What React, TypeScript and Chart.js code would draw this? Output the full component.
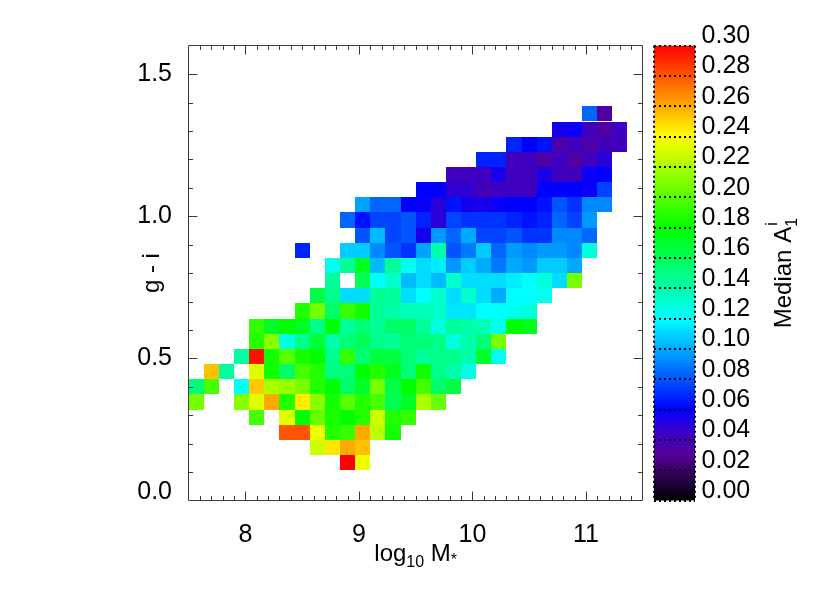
import React, { useEffect, useRef } from 'react';
import { Chart, registerables } from 'chart.js';

Chart.register(...registerables);

// ---- axes ----
const X_MIN = 7.5;
const X_MAX = 11.5;
const Y_MIN = 0.0;
const Y_MAX = 1.6;
const N_BINS = 30;
const xTickValues = [8, 9, 10, 11];
const yTickValues = [0.0, 0.5, 1.0, 1.5];
const cbMin = 0.0;
const cbMax = 0.3;
const cbTickValues = [0.0, 0.02, 0.04, 0.06, 0.08, 0.1, 0.12, 0.14, 0.16, 0.18, 0.2, 0.22, 0.24, 0.26, 0.28, 0.3];

// ---- data: median A1 per (log M*, g-i) bin; row j = g-i bin from bottom, first value at column rowStart[j] ----
const rowStart = [0, 0, 10, 8, 6, 4, 0, 0, 1, 3, 4, 4, 7, 8, 9, 9, 7, 11, 10, 11, 15, 17, 19, 21, 24, 26];
const rowValues: (number | null)[][] = [
  [],
  [],
  [0.300, 0.236],
  [0.228, 0.246, 0.260, 0.255],
  [0.280, 0.280, 0.236, 0.188, 0.192, 0.260, 0.224, 0.184],
  [0.196, null, 0.232, 0.180, 0.204, 0.186, 0.180, 0.188, 0.228, 0.188, 0.192],
  [0.208, null, null, 0.212, 0.232, 0.260, 0.188, 0.244, 0.212, 0.184, 0.200, 0.188, 0.196, 0.160, 0.172, 0.220, 0.204],
  [0.152, 0.196, null, 0.120, 0.253, 0.220, 0.216, 0.208, 0.188, 0.180, 0.156, 0.170, 0.208, 0.163, 0.180, 0.196, 0.156, 0.164],
  [0.255, 0.143, null, 0.232, 0.184, 0.156, 0.196, 0.188, 0.150, 0.152, 0.180, 0.188, 0.174, 0.152, 0.184, 0.148, 0.140, 0.126],
  [0.143, 0.296, 0.184, 0.200, 0.184, 0.180, 0.148, 0.192, 0.152, 0.166, 0.166, 0.152, 0.144, 0.148, 0.148, 0.140, 0.170, 0.124],
  [0.188, 0.212, 0.128, 0.148, 0.168, 0.140, 0.152, 0.160, 0.148, 0.144, 0.152, 0.152, 0.148, 0.128, 0.140, 0.152, 0.208],
  [0.192, 0.172, 0.180, 0.172, 0.148, 0.180, 0.144, 0.152, 0.144, 0.156, 0.156, 0.144, 0.128, 0.144, 0.140, 0.138, 0.124, 0.180, 0.174],
  [0.188, 0.208, 0.156, 0.192, 0.184, 0.144, 0.140, 0.136, 0.136, 0.134, 0.114, 0.114, 0.120, 0.120, 0.124, 0.128],
  [0.164, 0.148, 0.112, 0.112, 0.144, 0.144, 0.112, 0.120, 0.132, 0.112, 0.132, 0.112, 0.100, 0.120, 0.120, 0.124],
  [0.144, null, 0.160, 0.120, 0.132, 0.104, 0.112, 0.104, 0.132, 0.112, 0.112, 0.112, 0.116, 0.120, 0.128, 0.112, 0.208],
  [0.124, 0.144, 0.172, 0.104, 0.144, 0.124, 0.112, 0.116, 0.096, 0.108, 0.100, 0.088, 0.100, 0.096, 0.108, 0.108, 0.100],
  [0.068, null, null, 0.108, 0.108, 0.092, 0.080, 0.072, 0.098, 0.140, 0.080, 0.088, 0.108, 0.084, 0.096, 0.092, 0.096, 0.096, 0.092, 0.128],
  [0.080, 0.104, 0.076, 0.080, 0.055, 0.096, 0.084, 0.100, 0.076, 0.076, 0.080, 0.072, 0.072, 0.092, 0.092, 0.084],
  [0.084, 0.064, 0.076, 0.076, 0.080, 0.068, 0.050, 0.076, 0.072, 0.072, 0.072, 0.068, 0.064, 0.068, 0.084, 0.076, 0.096],
  [0.098, 0.084, 0.084, 0.060, 0.058, 0.050, 0.064, 0.055, 0.054, 0.058, 0.060, 0.060, 0.064, 0.080, 0.072, 0.092, 0.092],
  [0.060, 0.060, 0.048, 0.048, 0.040, 0.043, 0.043, 0.043, 0.060, 0.060, 0.060, 0.058, 0.076],
  [0.043, 0.043, 0.043, 0.054, 0.042, 0.042, 0.053, 0.043, 0.042, 0.058, 0.060],
  [0.068, 0.068, 0.042, 0.042, 0.034, 0.043, 0.034, 0.042, 0.050],
  [0.068, 0.060, 0.064, 0.036, 0.042, 0.036, 0.042, 0.042],
  [0.055, 0.058, 0.042, 0.034, 0.043],
  [0.084, 0.034],
];

// ---- colour table (value, r, g, b) ----
const cmapStops: [number, number, number, number][] = [
  [0.000, 0, 0, 0],
  [0.030, 85, 0, 150],
  [0.045, 60, 0, 200],
  [0.060, 0, 0, 255],
  [0.090, 0, 128, 255],
  [0.120, 0, 255, 255],
  [0.150, 0, 255, 128],
  [0.180, 0, 255, 0],
  [0.240, 255, 255, 0],
  [0.270, 255, 128, 0],
  [0.300, 255, 0, 0],
];

const FONT = '"Liberation Sans", Arial, Helvetica, sans-serif';

function colorFor(v: number): string {
  const t = Math.max(cbMin, Math.min(cbMax, v));
  for (let k = 1; k < cmapStops.length; k++) {
    const a = cmapStops[k - 1];
    const b = cmapStops[k];
    if (t <= b[0]) {
      const f = (t - a[0]) / (b[0] - a[0]);
      const r = Math.round(a[1] + (b[1] - a[1]) * f);
      const g = Math.round(a[2] + (b[2] - a[2]) * f);
      const bb = Math.round(a[3] + (b[3] - a[3]) * f);
      return `rgb(${r},${g},${bb})`;
    }
  }
  const l = cmapStops[cmapStops.length - 1];
  return `rgb(${l[1]},${l[2]},${l[3]})`;
}

const dx = (X_MAX - X_MIN) / N_BINS;
const dy = (Y_MAX - Y_MIN) / N_BINS;

function buildPoints() {
  const pts: { x: number; y: number; v: number }[] = [];
  rowValues.forEach((row, j) => {
    row.forEach((v, k) => {
      if (v === null) return;
      const i = rowStart[j] + k;
      pts.push({ x: X_MIN + (i + 0.5) * dx, y: Y_MIN + (j + 0.5) * dy, v });
    });
  });
  return pts;
}

const heatPlugin = {
  id: 'heatCells',
  beforeDatasetsDraw(chart: any) {
    const { ctx, chartArea, scales } = chart;
    const xs = scales.x;
    const ys = scales.y;
    const data = chart.data.datasets[0].data as { x: number; y: number; v: number }[];
    ctx.save();
    ctx.beginPath();
    ctx.rect(chartArea.left, chartArea.top, chartArea.right - chartArea.left, chartArea.bottom - chartArea.top);
    ctx.clip();
    for (const p of data) {
      const x0 = Math.round(xs.getPixelForValue(p.x - dx / 2));
      const x1 = Math.round(xs.getPixelForValue(p.x + dx / 2));
      const y0 = Math.round(ys.getPixelForValue(p.y + dy / 2));
      const y1 = Math.round(ys.getPixelForValue(p.y - dy / 2));
      ctx.fillStyle = colorFor(p.v);
      ctx.fillRect(x0, y0, x1 - x0, y1 - y0);
    }
    ctx.restore();
  },
};

const framePlugin = {
  id: 'frameAndBar',
  afterDraw(chart: any) {
    const { ctx, chartArea, scales } = chart;
    const xs = scales.x;
    const ys = scales.y;
    const cb = scales.y2;
    const L = Math.floor(chartArea.left) + 0.5;
    const R = Math.floor(chartArea.right) + 0.5;
    const T = Math.floor(chartArea.top) + 0.5;
    const B = Math.floor(chartArea.bottom) + 0.5;
    ctx.save();
    ctx.strokeStyle = '#3a3a3a';
    ctx.lineWidth = 1;
    ctx.beginPath();
    ctx.rect(L, T, R - L, B - T);
    ctx.stroke();
    const major = 9;
    const minor = 4.5;
    ctx.beginPath();
    for (let k = Math.round(X_MIN * 10) + 1; k < Math.round(X_MAX * 10); k++) {
      const px = Math.round(xs.getPixelForValue(k / 10)) + 0.5;
      const len = k % 10 === 0 ? major : minor;
      ctx.moveTo(px, B);
      ctx.lineTo(px, B - len);
      ctx.moveTo(px, T);
      ctx.lineTo(px, T + len);
    }
    for (let k = Math.round(Y_MIN * 10) + 1; k < Math.round(Y_MAX * 10); k++) {
      const py = Math.round(ys.getPixelForValue(k / 10)) + 0.5;
      const len = k % 5 === 0 ? major : minor;
      ctx.moveTo(L, py);
      ctx.lineTo(L + len, py);
      ctx.moveTo(R, py);
      ctx.lineTo(R - len, py);
    }
    ctx.stroke();

    // colour bar
    const bx0 = Math.round(chartArea.right + 11.5);
    const bx1 = Math.round(chartArea.right + 52.5);
    const byTop = cb.getPixelForValue(cbMax);
    const byBot = cb.getPixelForValue(cbMin);
    const grad = ctx.createLinearGradient(0, byBot, 0, byTop);
    for (const s of cmapStops) {
      grad.addColorStop((s[0] - cbMin) / (cbMax - cbMin), `rgb(${s[1]},${s[2]},${s[3]})`);
    }
    ctx.fillStyle = grad;
    ctx.fillRect(bx0, byTop, bx1 - bx0, byBot - byTop);
    ctx.strokeStyle = '#000';
    ctx.lineWidth = 2;
    ctx.setLineDash([2, 3]);
    ctx.beginPath();
    for (const v of cbTickValues) {
      const py = Math.round(cb.getPixelForValue(v));
      ctx.moveTo(bx0, py);
      ctx.lineTo(bx1, py);
    }
    ctx.moveTo(bx0, byTop);
    ctx.lineTo(bx0, byBot);
    ctx.moveTo(bx1, byTop);
    ctx.lineTo(bx1, byBot);
    ctx.stroke();
    ctx.setLineDash([]);

    // titles
    ctx.fillStyle = '#000';
    ctx.textBaseline = 'alphabetic';
    // x title: log10 M*
    const big = `24px ${FONT}`;
    const small = `16px ${FONT}`;
    const parts: [string, string, number][] = [
      ['log', big, 0],
      ['10', small, 6],
      [' M', big, 0],
      ['*', small, 4],
    ];
    let total = 0;
    for (const p of parts) {
      ctx.font = p[1];
      total += ctx.measureText(p[0]).width;
    }
    let cx = (chartArea.left + chartArea.right) / 2 - total / 2;
    const baseY = chartArea.bottom + 60;
    for (const p of parts) {
      ctx.font = p[1];
      ctx.fillText(p[0], cx, baseY + p[2]);
      cx += ctx.measureText(p[0]).width;
    }
    // y title: g - i
    ctx.save();
    ctx.translate(chartArea.left - 30, (chartArea.top + chartArea.bottom) / 2);
    ctx.rotate(-Math.PI / 2);
    ctx.font = big;
    ctx.textAlign = 'center';
    ctx.fillText('g - i', 0, 0);
    ctx.restore();
    // colour bar title: Median A_1^i
    ctx.save();
    ctx.translate(bx1 + 96, (chartArea.top + chartArea.bottom) / 2);
    ctx.rotate(-Math.PI / 2);
    ctx.font = big;
    const w1 = ctx.measureText('Median A').width;
    ctx.font = small;
    const w2 = ctx.measureText('1').width;
    const start = -(w1 + w2) / 2;
    ctx.font = big;
    ctx.textAlign = 'left';
    ctx.fillText('Median A', start, 0);
    ctx.font = small;
    ctx.fillText('i', start + w1 + 1, -14);
    ctx.fillText('1', start + w1, 6);
    ctx.restore();
    ctx.restore();
  },
};

export default function App() {
  const canvasRef = useRef<HTMLCanvasElement | null>(null);

  useEffect(() => {
    document.body.style.margin = '0';
    const canvas = canvasRef.current;
    if (!canvas) return;
    const tickFont = { family: FONT, size: 25 };
    const chart = new Chart(canvas, {
      type: 'scatter',
      data: {
        datasets: [
          {
            label: 'Median A1',
            data: buildPoints() as any,
            pointRadius: 0,
            pointHoverRadius: 0,
            showLine: false,
          },
        ],
      },
      options: {
        animation: false,
        responsive: false,
        events: [],
        layout: { padding: { top: 45.7, left: 0, right: 0, bottom: 0 } },
        plugins: { legend: { display: false }, tooltip: { enabled: false }, title: { display: false } },
        scales: {
          x: {
            type: 'linear',
            position: 'bottom',
            min: X_MIN,
            max: X_MAX,
            grid: { display: false },
            border: { display: false },
            afterBuildTicks: (s: any) => {
              s.ticks = xTickValues.map((v) => ({ value: v }));
            },
            afterFit: (s: any) => {
              s.height = 593 - 500.5;
              s.paddingLeft = 0;
              s.paddingRight = 0;
            },
            ticks: {
              font: tickFont,
              color: '#000',
              padding: 11.5,
              maxRotation: 0,
              autoSkip: false,
              callback: (_v: any, i: number) => String(xTickValues[i]),
            },
          },
          y: {
            type: 'linear',
            position: 'left',
            min: Y_MIN,
            max: Y_MAX,
            grid: { display: false },
            border: { display: false },
            afterBuildTicks: (s: any) => {
              s.ticks = yTickValues.map((v) => ({ value: v === Y_MIN ? v + 0.03 : v }));
            },
            afterFit: (s: any) => {
              s.width = 188.7;
              s.paddingTop = 0;
              s.paddingBottom = 0;
            },
            ticks: {
              font: tickFont,
              color: '#000',
              padding: 8.7,
              autoSkip: false,
              callback: (_v: any, i: number) => yTickValues[i].toFixed(1),
            },
          },
          y2: {
            type: 'linear',
            position: 'right',
            min: cbMin,
            max: cbMax,
            grid: { display: false },
            border: { display: false },
            afterBuildTicks: (s: any) => {
              s.ticks = cbTickValues.map((v) => ({ value: v }));
            },
            afterFit: (s: any) => {
              s.width = 830 - 642.6;
              s.paddingTop = 0;
              s.paddingBottom = 0;
            },
            ticks: {
              font: tickFont,
              color: '#000',
              padding: 51,
              labelOffset: -9.5,
              autoSkip: false,
              callback: (_v: any, i: number) => cbTickValues[i].toFixed(2),
            },
          },
        },
      },
      plugins: [heatPlugin, framePlugin],
    });
    return () => chart.destroy();
  }, []);

  return (
    <div style={{ position: 'absolute', left: 0, top: 0, width: 830, height: 593, background: '#fff' }}>
      <canvas ref={canvasRef} width={830} height={593} style={{ width: 830, height: 593, display: 'block' }} />
    </div>
  );
}
